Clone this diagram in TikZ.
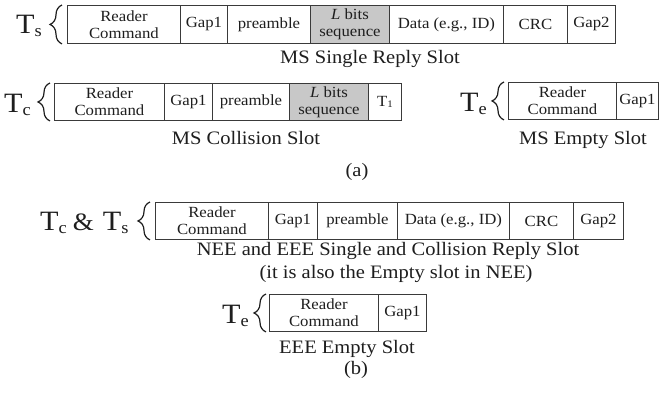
\documentclass[tikz,border=0pt]{standalone}
\usepackage{fontspec}
\setmainfont[FakeStretch=1.08]{Liberation Serif}
\usetikzlibrary{decorations.pathreplacing}
\definecolor{linec}{HTML}{3A3A3A}
\definecolor{txtc}{HTML}{1E1E1E}
\definecolor{grayfill}{HTML}{C8C8C8}
\newcommand{\TT}[1]{{\fontsize{28}{28}\selectfont T}\raisebox{-3pt}{\fontsize{17}{17}\selectfont #1}}
\tikzset{
  cell/.style={draw=linec, line width=0.9pt, inner sep=0pt, align=center, anchor=north west,
    text=txtc, font=\fontsize{15.5}{17}\selectfont},
  r1/.style={cell, minimum height=38pt},
  r2/.style={cell, minimum height=37pt},
  shaded/.style={fill=grayfill},
  tlab/.style={anchor=base west, inner sep=0pt, text=txtc},
  captext/.style={anchor=base, inner sep=0pt, text=txtc, font=\fontsize{19}{22}\selectfont},
  brc/.style={draw=txtc, line width=1.2pt, decorate, decoration={brace, amplitude=12pt}}
}
\begin{document}
\begin{tikzpicture}[x=1pt, y=-1pt]
\useasboundingbox[fill=white] (0,0) rectangle (660,394);
% Row 1: MS single reply slot
\node[r1, minimum width=113pt] (a1) at (67,5) {Reader\\Command};
\node[r1, minimum width=47pt] (a2) at (180,5) {Gap1};
\node[r1, minimum width=83pt] (a3) at (227,5) {preamble};
\node[r1, shaded, minimum width=79pt] (a4) at (310,5) {\textit{L} bits\\sequence};
\node[r1, minimum width=114pt] (a5) at (389,5) {Data (e.g., ID)};
\node[r1, minimum width=64pt] (a6) at (503,5) {CRC};
\node[r1, minimum width=48pt] (a7) at (567,5) {Gap2};
\node[tlab] (ts1) at (16,33) {\TT{s}};
\draw[brc] ([xshift=-5pt]a1.south west) -- ([xshift=-5pt]a1.north west);
\node[captext] (capa1) at (370,63) {MS Single Reply Slot};
% Row 2: MS collision slot
\node[r2, minimum width=110pt] (b1) at (54,83) {Reader\\Command};
\node[r2, minimum width=48pt] (b2) at (164,83) {Gap1};
\node[r2, minimum width=77pt] (b3) at (212,83) {preamble};
\node[r2, shaded, minimum width=79pt] (b4) at (289,83) {\textit{L} bits\\sequence};
\node[r2, minimum width=33pt] (b5) at (368,83) {T\raisebox{-1.5pt}{\fontsize{10}{10}\selectfont 1}};
\node[tlab] (tc1) at (4,112) {\TT{c}};
\draw[brc] ([xshift=-4pt]b1.south west) -- ([xshift=-4pt]b1.north west);
\node[captext] (capb) at (246,144) {MS Collision Slot};
% MS empty slot
\node[r2, minimum width=108pt] (c1) at (508,82) {Reader\\Command};
\node[r2, minimum width=42pt] (c2) at (616,82) {Gap1};
\node[tlab] (te1) at (460,111) {\TT{e}};
\draw[brc] ([xshift=-4pt]c1.south west) -- ([xshift=-4pt]c1.north west);
\node[captext] (capc) at (583,144) {MS Empty Slot};
\node[captext] (laba) at (357,176) {(a)};
% Row 3: NEE and EEE
\node[r2, minimum width=113pt] (d1) at (155,202) {Reader\\Command};
\node[r2, minimum width=49pt] (d2) at (268,202) {Gap1};
\node[r2, minimum width=80pt] (d3) at (317,202) {preamble};
\node[r2, minimum width=112pt] (d4) at (397,202) {Data (e.g., ID)};
\node[r2, minimum width=64pt] (d5) at (509,202) {CRC};
\node[r2, minimum width=50pt] (d6) at (573,202) {Gap2};
\node[tlab] (tcs) at (40,230) {\TT{c}\hspace{6pt}{\fontsize{25}{25}\selectfont\&}\hspace{9pt}\TT{s}};
\draw[brc] ([xshift=-5pt]d1.south west) -- ([xshift=-5pt]d1.north west);
\node[captext] (capd1) at (388,255) {NEE and EEE Single and Collision Reply Slot};
\node[captext] (capd2) at (396,278) {(it is also the Empty slot in NEE)};
% Row 4: EEE empty slot
\node[r2, minimum width=109pt] (e1) at (269,294) {Reader\\Command};
\node[r2, minimum width=48pt] (e2) at (378,294) {Gap1};
\node[tlab] (te2) at (222,323) {\TT{e}};
\draw[brc] ([xshift=-3pt]e1.south west) -- ([xshift=-3pt]e1.north west);
\node[captext] (cape) at (347,353) {EEE Empty Slot};
\node[captext] (labb) at (356,374) {(b)};
\end{tikzpicture}
\end{document}
